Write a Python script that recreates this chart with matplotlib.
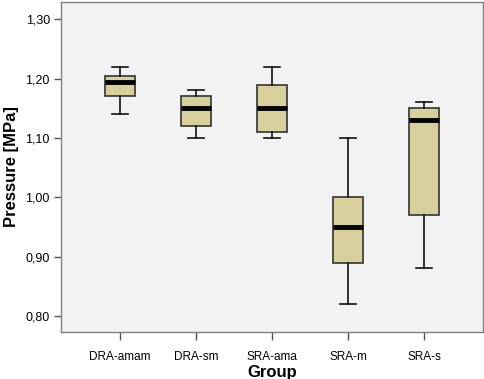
import matplotlib
matplotlib.use("Agg")
import matplotlib.pyplot as plt
from matplotlib.ticker import FixedLocator

groups = ["DRA-amam", "DRA-sm", "SRA-ama", "SRA-m", "SRA-s"]
whislo = [1.14, 1.10, 1.10, 0.82, 0.88]
q1 = [1.17, 1.12, 1.11, 0.89, 0.97]
med = [1.195, 1.15, 1.15, 0.95, 1.13]
q3 = [1.205, 1.17, 1.19, 1.00, 1.15]
whishi = [1.22, 1.18, 1.22, 1.10, 1.16]
yticks = [0.80, 0.90, 1.00, 1.10, 1.20, 1.30]
ytick_labels = ["0,80", "0,90", "1,00", "1,10", "1,20", "1,30"]

plt.rcParams['font.family'] = ['Liberation Sans', 'DejaVu Sans']

fig = plt.figure(figsize=(4.85, 3.79), dpi=100)
ax = fig.add_axes([61/485, 1-332/379, (483-61)/485, 330/379])
ax.set_facecolor("#F2F2F2")

stats = []
for g, lo, a, m, b, hi in zip(groups, whislo, q1, med, q3, whishi):
    stats.append(dict(label=g, whislo=lo, q1=a, med=m, q3=b, whishi=hi, fliers=[]))

pos = list(range(1, len(groups) + 1))
ax.bxp(stats, positions=pos, widths=0.39, patch_artist=True, showfliers=False,
       boxprops=dict(facecolor="#D7CF9C", edgecolor="#333333", linewidth=1.2),
       medianprops=dict(color="black", linewidth=3.5, solid_capstyle="butt"),
       whiskerprops=dict(color="#111111", linewidth=1.2),
       capprops=dict(color="#111111", linewidth=1.2),
       capwidths=0.2)

ax.set_xlim(0.224, 5.776)
ax.set_ylim(0.773, 1.329)
ax.yaxis.set_major_locator(FixedLocator(yticks))
ax.set_yticklabels(ytick_labels)
ax.set_xticks(pos)
ax.set_xticklabels(groups)

for s in ax.spines.values():
    s.set_color("#808080")
    s.set_linewidth(1.0)

ax.tick_params(axis="y", direction="out", length=5, width=1, color="#555555",
               labelsize=9, pad=3)
ax.tick_params(axis="x", direction="out", length=6, width=1, color="#555555",
               labelsize=8.5, pad=8)

ax.set_ylabel("Pressure [MPa]", fontsize=12, fontweight="bold", labelpad=5)
ax.set_xlabel("Group", fontsize=12, fontweight="bold", labelpad=1)

fig.savefig("out.png", dpi=100, facecolor="white")
